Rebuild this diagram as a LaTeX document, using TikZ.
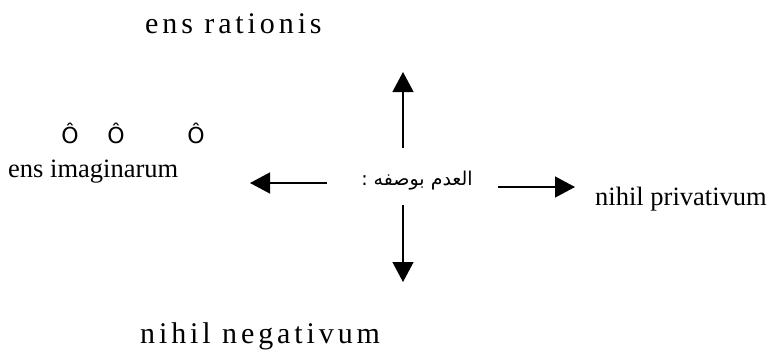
\documentclass[tikz,border=0pt]{standalone}
\usepackage{fontspec}
\setmainfont{Liberation Serif}
\newfontfamily\symfont{DejaVu Sans}
\newfontfamily\arabicfont[Script=Arabic]{DejaVu Sans}
\TeXXeTstate=1
\usetikzlibrary{arrows.meta}

\begin{document}
\begin{tikzpicture}[x=1pt,y=-1pt,
    lbl/.style={inner sep=0pt,anchor=base west,font=\fontsize{26.5}{30}\selectfont},
    spaced/.style={inner sep=0pt,anchor=base west,
      font=\fontsize{30}{34}\selectfont\addfontfeature{LetterSpace=13}},
    hat/.style={inner sep=0pt,anchor=base,font=\symfont\fontsize{22}{26}\selectfont},
    pointer/.style={line width=1.3pt,-{Triangle[length=20pt,width=21pt]}}]
  \useasboundingbox (0,0) rectangle (779,360);
  % the four names
  \node[spaced] (rationis) at (145,33) {ens rationis};
  \node[lbl] (imaginarum) at (8,177) {ens imaginarum};
  \node[lbl] (privativum) at (595,205) {nihil privativum};
  \node[spaced] (negativum) at (140,343) {nihil negativum};
  \node[hat] (hatA) at (70,143) {Ô};
  \node[hat] (hatB) at (116,143) {Ô};
  \node[hat] (hatC) at (196,143) {Ô};
  % middle
  \node[inner sep=0pt,font=\arabicfont\fontsize{19}{22}\selectfont] (adam) at (417,181)
    {\beginR العدم بوصفه :\endR};
  \coordinate (upS) at (403,148);
  \coordinate (upE) at (403,72);
  \coordinate (dnS) at (403,205);
  \coordinate (dnE) at (403,282);
  \coordinate (lfS) at (327,183);
  \coordinate (lfE) at (250,183);
  \coordinate (rtS) at (498,187);
  \coordinate (rtE) at (575,187);
  \draw[pointer] (upS) -- (upE);
  \draw[pointer] (dnS) -- (dnE);
  \draw[pointer] (lfS) -- (lfE);
  \draw[pointer] (rtS) -- (rtE);
\end{tikzpicture}
\end{document}
